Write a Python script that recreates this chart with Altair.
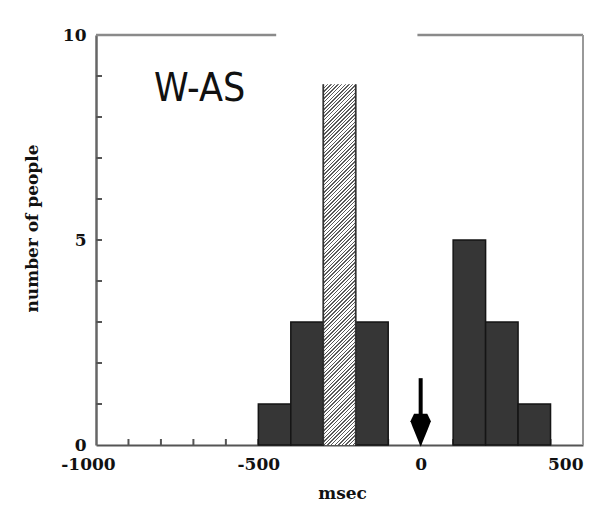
import altair as alt
import pandas as pd

# ---- data ----
bin_start = [-500, -400, -300, -200, 100, 200, 300]
bin_end = [-400, -300, -200, -100, 200, 300, 400]
counts = [1, 3, 8.8, 3, 5, 3, 1]
hatched = [False, False, True, False, False, False, False]

x_labels = [-1000, -500, 0, 500]
y_labels = [0, 5, 10]
x_minor = [-900, -800, -700, -600, -500, -400, -300, -200, -100, 0, 100, 200, 300, 400]
y_minor = [1, 2, 3, 4, 5, 6, 7, 8, 9]

panel_label = ["W-AS"]
panel_label_x = [-681]
panel_label_y = [8.68]

arrow_x = [0]
arrow_top = [1.63]
arrow_shaft_end = [0.6]
arrow_head_y = [0.36]

top_seg_from = [-1000, -10]
top_seg_to = [-445, 500]

X_DOMAIN = [-1000, 500]
Y_DOMAIN = [0, 10]

W, H = 487, 410

bars = pd.DataFrame({"start": bin_start, "end": bin_end, "count": counts, "hatched": hatched})
xs = alt.Scale(domain=X_DOMAIN, nice=False, zero=False)
ys = alt.Scale(domain=Y_DOMAIN, nice=False, zero=False)

SERIF = "DejaVu Serif"

x_axis = alt.Axis(
    values=x_labels, tickSize=0, grid=False, title="msec",
    labelExpr="'' + datum.value",
    labelFont=SERIF, labelFontWeight="bold", labelFontSize=17, labelColor="#111",
    labelPadding=11, labelFlush=False,
    labelAlign={"condition": {"test": "datum.value == 500", "value": "right"}, "value": "center"},
    labelOffset={"condition": {"test": "datum.value == -1000", "value": -8}, "value": 0},
    domainColor="#555", domainWidth=2.2,
    titleFont=SERIF, titleFontWeight="bold", titleFontSize=17, titleColor="#111",
    titleX=246, titleY=48, titleBaseline="middle", titleAlign="center",
)
y_axis = alt.Axis(
    values=y_labels, tickSize=0, grid=False, title="number of people",
    labelExpr="'' + datum.value",
    labelFont=SERIF, labelFontWeight="bold", labelFontSize=17, labelColor="#111",
    labelPadding=10, labelBaseline="middle",
    domainColor="#666", domainWidth=2.5,
    titleFont=SERIF, titleFontWeight="bold", titleFontSize=17, titleColor="#111",
    titleX=-64, titleY=193, titleBaseline="middle", titleAlign="center", titleAngle=270,
)


def X(field):
    return alt.X(field, scale=xs, axis=x_axis, title="msec")


def Y(field):
    return alt.Y(field, scale=ys, axis=y_axis, title="number of people")


# hatch fill as a striped linear gradient (stripes at 45 deg in screen space)
bw = 100 * W / (X_DOMAIN[1] - X_DOMAIN[0])
bh = 8.8 * H / (Y_DOMAIN[1] - Y_DOMAIN[0])
a = bw / bh
k = (a + 1) / (a * a + 1)
period = 3.6
n = int(round((bw + bh) / period))
stops = []
for i in range(n):
    s0 = i / n
    s1 = (i + 0.4) / n
    s2 = (i + 1) / n
    stops += [
        alt.GradientStop(color="#5a5a5a", offset=s0),
        alt.GradientStop(color="#5a5a5a", offset=s1),
        alt.GradientStop(color="#ffffff", offset=s1),
        alt.GradientStop(color="#ffffff", offset=s2),
    ]
hatch = alt.LinearGradient(gradient="linear", x1=0, y1=0, x2=a * k, y2=k, stops=stops)

base_bars = alt.Chart(bars)

# minor ticks (drawn first, covered by bars)
y_ticks = alt.Chart(pd.DataFrame({"v": y_minor})).mark_rule(color="#555", strokeWidth=2).encode(
    y=Y("v:Q"), x=alt.value(0), x2=alt.value(6)
)
x_ticks = alt.Chart(pd.DataFrame({"v": x_minor})).mark_rule(color="#555", strokeWidth=2).encode(
    x=X("v:Q"), y=alt.value(H), y2=alt.value(H - 6)
)

dark = base_bars.transform_filter("!datum.hatched").mark_bar(
    fill="#363636", stroke="#151515", strokeWidth=1.5
).encode(
    x=X("start:Q"), x2="end:Q",
    y=Y("count:Q"), y2=alt.Y2Datum(0),
)
hbar = base_bars.transform_filter("datum.hatched").mark_bar(fill=hatch, strokeWidth=0).encode(
    x=X("start:Q"), x2="end:Q",
    y=Y("count:Q"), y2=alt.Y2Datum(0),
)
hside_l = base_bars.transform_filter("datum.hatched").mark_rule(color="#333", strokeWidth=1.8).encode(
    x=X("start:Q"), y=Y("count:Q"), y2=alt.Y2Datum(0),
)
hside_r = base_bars.transform_filter("datum.hatched").mark_rule(color="#333", strokeWidth=1.8).encode(
    x=X("end:Q"), y=Y("count:Q"), y2=alt.Y2Datum(0),
)

# frame: top (with gap) and right
top_df = pd.DataFrame({"a": top_seg_from, "b": top_seg_to, "y": [Y_DOMAIN[1]] * len(top_seg_from)})
top_line = alt.Chart(top_df).mark_rule(color="#8a8a8a", strokeWidth=2.6).encode(
    x=X("a:Q"), x2="b:Q", y=Y("y:Q")
)
right_line = alt.Chart(pd.DataFrame({"x": [X_DOMAIN[1]], "y0": [Y_DOMAIN[0]], "y1": [Y_DOMAIN[1]]})).mark_rule(
    color="#999", strokeWidth=2
).encode(x=X("x:Q"), y=Y("y0:Q"), y2="y1:Q")

# arrow
arrow_df = pd.DataFrame({"x": arrow_x, "top": arrow_top, "end": arrow_shaft_end, "head": arrow_head_y})
shaft = alt.Chart(arrow_df).mark_rule(color="#000", strokeWidth=4).encode(
    x=X("x:Q"), y=Y("top:Q"), y2="end:Q"
)
head = alt.Chart(arrow_df).mark_point(
    shape="M-0.4,-1 L0.4,-1 L0.62,-0.55 L0.45,-0.1 L0,1 L-0.45,-0.1 L-0.62,-0.55 Z",
    filled=True, fill="#000", opacity=1, size=33 * 33,
).encode(x=X("x:Q"), y=Y("head:Q"))

# panel label
label = alt.Chart(pd.DataFrame({"t": panel_label, "x": panel_label_x, "y": panel_label_y})).mark_text(
    font="Liberation Sans Narrow, DejaVu Sans Condensed, Liberation Sans",
    fontSize=39, color="#111", baseline="middle", align="center",
).encode(x=X("x:Q"), y=Y("y:Q"), text="t:N")

chart = alt.layer(
    x_ticks, y_ticks, dark, hbar, hside_l, hside_r, top_line, right_line, shaft, head, label
).properties(
    width=W, height=H,
    padding={"left": 88, "top": 27, "right": 9, "bottom": 70},
    autosize=alt.AutoSizeParams(type="none"),
    background="white",
).configure_view(stroke=None)

chart.save("out.html", embed_options={"renderer": "svg", "actions": False})
